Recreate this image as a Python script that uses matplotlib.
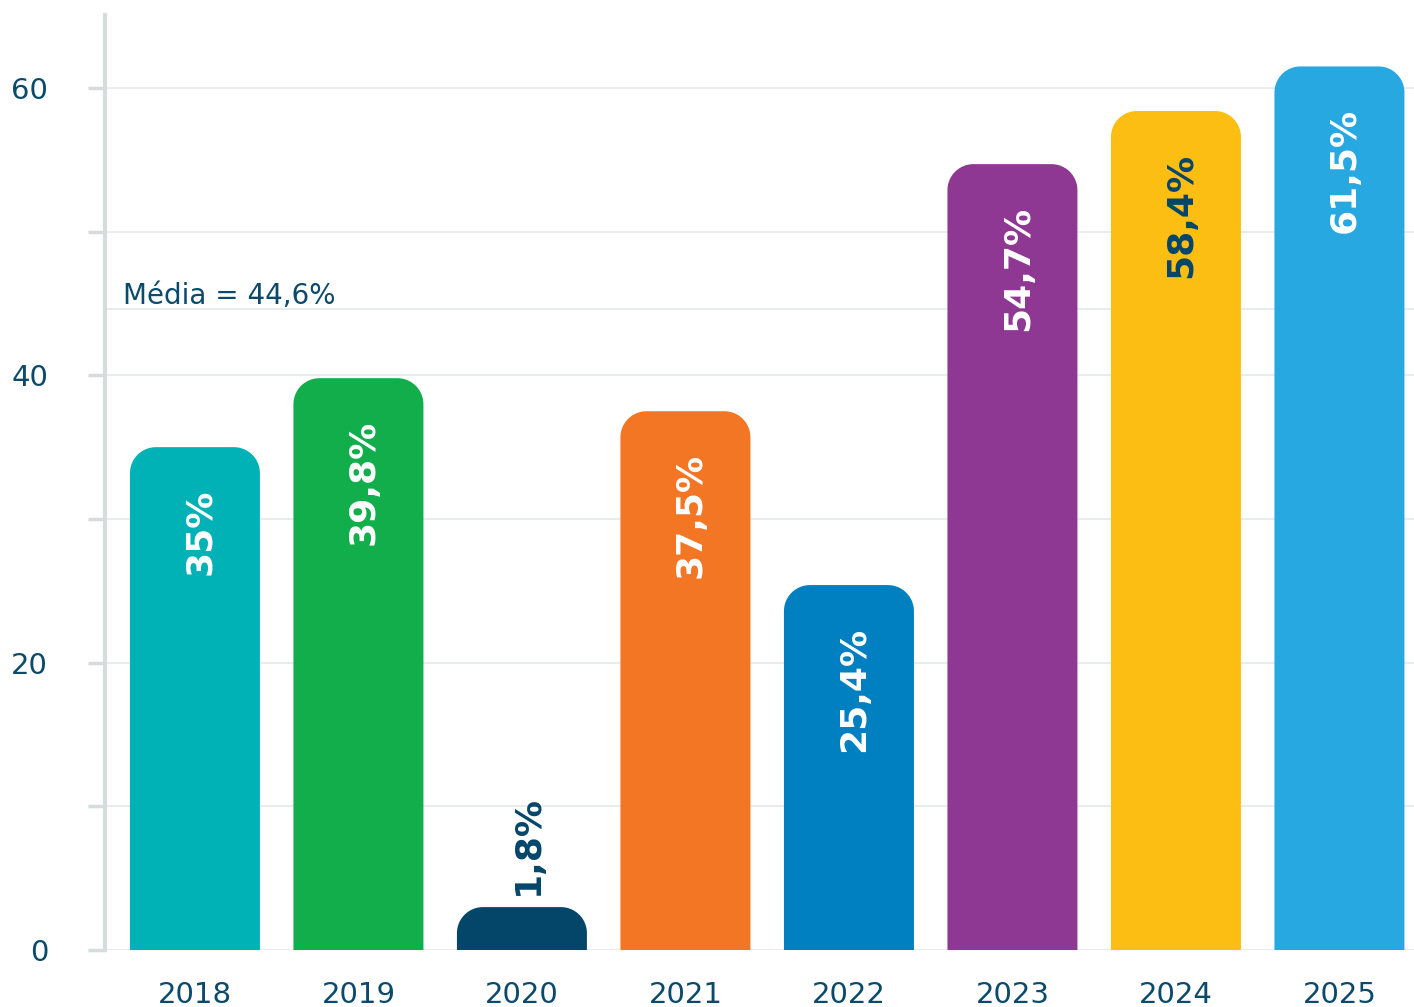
import numpy as np
import matplotlib.pyplot as plt
from matplotlib.path import Path
from matplotlib.patches import PathPatch

plt.rcParams["font.family"] = "DejaVu Sans"

# Data
years = ["2018", "2019", "2020", "2021", "2022", "2023", "2024", "2025"]
values = [35.0, 39.8, 1.8, 37.5, 25.4, 54.7, 58.4, 61.5]
value_labels = ["35%", "39,8%", "1,8%", "37,5%", "25,4%", "54,7%", "58,4%", "61,5%"]
bar_colors = ["#00b2b5", "#12ae4b", "#04466a", "#f37624",
              "#0080c0", "#8e3793", "#fdbe13", "#27a8e0"]
text_colors = ["white", "white", "#04466a", "white",
               "white", "white", "#04466a", "white"]
mean_value = 44.6
mean_label = "Média = 44,6%"
y_ticks = [0, 10, 20, 30, 40, 50, 60]
y_ticklabels = ["0", "", "20", "", "40", "", "60"]

NAVY = "#0b4a6b"
AXIS_GREY = "#d5dcdb"
GRID_GREY = "#e9eced"


def rounded_top(x0, y0, w, h, rx, ry, n=24):
    """Bar outline with rounded top corners (data units)."""
    h = max(h, 1.65 * ry)
    t = np.linspace(0, np.pi / 2, n)
    right = np.column_stack([x0 + w - rx + rx * np.cos(t),
                             y0 + h - ry + ry * np.sin(t)])
    left = np.column_stack([x0 + rx + rx * np.cos(t + np.pi / 2),
                            y0 + h - ry + ry * np.sin(t + np.pi / 2)])
    verts = np.vstack([[x0, y0], [x0 + w, y0], right, left, [x0, y0]])
    codes = [Path.MOVETO] + [Path.LINETO] * (len(verts) - 2) + [Path.CLOSEPOLY]
    return Path(verts, codes)


def main():
    W, H = 1414, 1007
    fig = plt.figure(figsize=(W / 100, H / 100), dpi=100)
    ax = fig.add_axes([105 / W, 57 / H, 1309 / W, 935 / H])

    x = np.arange(len(years))
    width = 0.795
    ax.set_xlim(-0.55, 7.456)
    ax.set_ylim(0, 65.08)

    # pixel -> data scale for the corner radius
    px_x = (1309) / (7.456 + 0.55)
    px_y = 935 / 65.08
    rx, ry = 26 / px_x, 26 / px_y

    bars = ax.bar(x, values, width=width, color=bar_colors, zorder=3)
    for bar, col in zip(bars, bar_colors):
        bar.set_visible(False)
        patch = PathPatch(
            rounded_top(bar.get_x(), bar.get_y(), bar.get_width(),
                        bar.get_height(), rx, ry),
            facecolor=col, edgecolor="none", zorder=3, clip_on=True)
        ax.add_patch(patch)

    # value labels
    for xi, v, lab, tc in zip(x, values, value_labels, text_colors):
        if v < 5:
            ax.annotate(lab, (xi, max(v, 1.65 * ry)), xytext=(4, 9),
                        textcoords="offset points", rotation=90,
                        ha="center", va="bottom", color=tc,
                        fontsize=26, fontweight="bold", zorder=4)
        else:
            ax.annotate(lab, (xi, v), xytext=(4, -30),
                        textcoords="offset points", rotation=90,
                        ha="center", va="top", color=tc,
                        fontsize=26, fontweight="bold", zorder=4)

    # mean line + label
    ax.axhline(mean_value, color=GRID_GREY, lw=1.5, zorder=1)
    ax.annotate(mean_label, xy=(0.014, mean_value),
                xycoords=("axes fraction", "data"), xytext=(0, 4),
                textcoords="offset points", va="baseline", ha="left",
                color=NAVY, fontsize=20)

    # axes styling
    ax.set_yticks(y_ticks)
    ax.set_yticklabels(y_ticklabels)
    ax.yaxis.grid(True, color=GRID_GREY, lw=1.5, zorder=0)
    ax.set_axisbelow(True)
    ax.set_xticks(x)
    ax.set_xticklabels(years)
    for s in ["top", "right", "bottom"]:
        ax.spines[s].set_visible(False)
    ax.spines["left"].set_color(AXIS_GREY)
    ax.spines["left"].set_linewidth(3)
    ax.tick_params(axis="y", length=12, width=2.5, color=AXIS_GREY,
                   pad=29, labelsize=21, labelcolor=NAVY)
    ax.tick_params(axis="x", length=0, pad=22, labelsize=21,
                   labelcolor=NAVY)

    fig.savefig("out.png", dpi=100)


if __name__ == "__main__":
    main()
